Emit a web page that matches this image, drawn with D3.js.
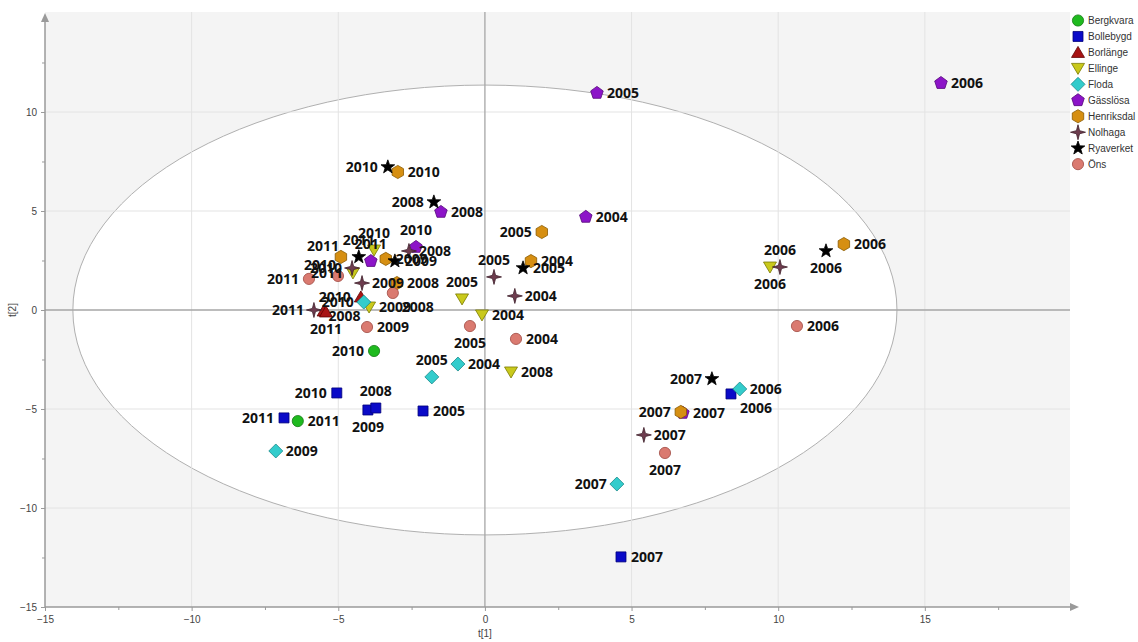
<!DOCTYPE html>
<html>
<head>
<meta charset="utf-8">
<script src="https://cdn.jsdelivr.net/npm/d3@7"></script>
<style>
  body { margin: 0; background: #fff; }
  svg { display: block; }
</style>
</head>
<body>
<svg id="chart" width="1138" height="642"></svg>
<script>
// PCA score plot t[1] vs t[2]; each row is [year, t1, t2, label side]
const sites = ["Bergkvara", "Bollebygd", "Borlänge", "Ellinge", "Floda", "Gässlösa", "Henriksdal", "Nolhaga", "Ryaverket", "Öns"];

const bergkvara = [["2010", -3.78, -2.07, "l"], ["2011", -6.38, -5.61, "r"]];
const bollebygd = [["2010", -5.05, -4.19, "l"], ["2011", -6.85, -5.45, "l"], ["2009", -3.99, -5.05, "b"],
                   ["2008", -3.72, -4.95, "t"], ["2005", -2.11, -5.10, "r"], ["2006", 8.39, -4.24, "br"],
                   ["2007", 4.64, -12.47, "r"]];
const borlange = [["2010", -4.23, 0.66, "l"], ["2008", -5.50, -0.05, "rb"], ["2011", -5.42, -0.10, "b"]];
const ellinge = [["2010", -3.78, 3.03, "t"], ["2011", -4.50, 1.87, "l"], ["2009", -3.95, 0.15, "r"],
                 ["2005", -0.78, 0.56, "t"], ["2004", -0.10, -0.25, "r"], ["2008", 0.89, -3.13, "r"],
                 ["2006", 9.72, 2.17, "b"]];
const floda = [["2010", -4.13, 0.40, "l"], ["2009", -7.13, -7.12, "r"], ["2005", -1.81, -3.38, "t"],
               ["2004", -0.92, -2.73, "r"], ["2006", 8.69, -3.99, "r"], ["2007", 4.50, -8.79, "l"]];
const gasslosa = [["2008", -1.50, 4.95, "r"], ["2010", -2.35, 3.18, "t"], ["2011", -3.89, 2.47, "t"],
                  ["2004", 3.44, 4.70, "r"], ["2005", 3.82, 10.96, "r"], ["2006", 15.55, 11.46, "r"],
                  ["2007", 6.75, -5.20, "r"]];
const henriksdal = [["2010", -2.97, 6.97, "r"], ["2011", -4.91, 2.68, "tl"], ["2009", -3.38, 2.58, "r"],
                    ["2008", -3.00, 1.36, "r"], ["2005", 1.94, 3.94, "l"], ["2004", 1.57, 2.47, "r"],
                    ["2006", 12.24, 3.33, "r"], ["2007", 6.68, -5.15, "l"]];
const nolhaga = [["2008", -2.59, 2.98, "r"], ["2010", -4.53, 2.12, "l"], ["2009", -4.19, 1.36, "r"],
                 ["2011", -5.83, 0.00, "l"], ["2005", 0.31, 1.67, "t"], ["2004", 1.02, 0.71, "r"],
                 ["2006", 10.06, 2.17, "t"], ["2007", 5.42, -6.31, "r"]];
const ryaverket = [["2010", -3.31, 7.22, "l"], ["2008", -1.74, 5.45, "l"], ["2011", -4.30, 2.68, "t"],
                   ["2009", -3.07, 2.47, "r"], ["2005", 1.30, 2.12, "r"], ["2006", 11.63, 2.98, "b"],
                   ["2007", 7.74, -3.48, "l"]];
const ons = [["2011", -6.00, 1.57, "l"], ["2010", -5.01, 1.72, "tl"], ["2008", -3.14, 0.86, "br"],
             ["2009", -4.02, -0.86, "r"], ["2005", -0.51, -0.81, "b"], ["2004", 1.06, -1.46, "r"],
             ["2006", 10.64, -0.81, "r"], ["2007", 6.14, -7.22, "b"]];

const seriesValues = [bergkvara, bollebygd, borlange, ellinge, floda, gasslosa, henriksdal, nolhaga, ryaverket, ons];

// confidence ellipse semi-axes (t1, t2 units)
const ellipseAxes = [14.05, 11.36];

const xTicks = [-15, -10, -5, 0, 5, 10, 15];
const yTicks = [-15, -10, -5, 0, 5, 10];
const xMinor = [-12.5, -7.5, -2.5, 2.5, 7.5, 12.5, 17.5];
const yMinor = [-12.5, -7.5, -2.5, 2.5, 7.5, 12.5];

const fills = ["#1fba1f", "#0a0ac8", "#a81414", "#c9c91c", "#33cccc", "#8c14c8", "#d68f12", "#6e3c4e", "#000000", "#da7a70"];
const strokes = ["#137a13", "#00007a", "#600000", "#7a7a00", "#1a8a8a", "#55087a", "#8a5a00", "#3e1e2a", "#000000", "#a04a42"];

const svg = d3.select("#chart");
const plotLeft = 45, plotRight = 1070, plotTop = 12, plotBottom = 607;

const x = d3.scaleLinear().domain([-15, 19.95]).range([plotLeft, plotRight]);
const y = d3.scaleLinear().domain([-15, 15.05]).range([plotBottom, plotTop]);

// marker shapes
function poly(n, r, rot) {
  const pts = d3.range(n).map(i => {
    const a = rot + i * 2 * Math.PI / n;
    return [r * Math.cos(a), r * Math.sin(a)];
  });
  return "M" + pts.map(p => p.join(",")).join("L") + "Z";
}
function star(n, ro, ri, rot) {
  const pts = d3.range(2 * n).map(i => {
    const r = i % 2 ? ri : ro;
    const a = rot + i * Math.PI / n;
    return [r * Math.cos(a), r * Math.sin(a)];
  });
  return "M" + pts.map(p => p.join(",")).join("L") + "Z";
}
const up = -Math.PI / 2;
const shapes = [
  s => d3.symbol(d3.symbolCircle, Math.PI * 5.6 * 5.6 * s * s)(),
  s => d3.symbol(d3.symbolSquare, 100 * s * s)(),
  s => `M0,${-6 * s}L${6.5 * s},${5 * s}L${-6.5 * s},${5 * s}Z`,
  s => `M0,${6 * s}L${6.5 * s},${-5 * s}L${-6.5 * s},${-5 * s}Z`,
  s => poly(4, 7 * s, 0),
  s => poly(5, 6.6 * s, up),
  s => poly(6, 6.6 * s, up),
  s => star(4, 7.5 * s, 2.2 * s, up),
  s => star(5, 7.2 * s, 2.9 * s, up),
  s => d3.symbol(d3.symbolCircle, Math.PI * 5.6 * 5.6 * s * s)()
];

// background and T2 ellipse
svg.append("rect").attr("x", plotLeft).attr("y", plotTop)
  .attr("width", plotRight - plotLeft).attr("height", plotBottom - plotTop).attr("fill", "#f4f4f4");

svg.append("ellipse")
  .attr("cx", x(0)).attr("cy", y(0))
  .attr("rx", x(ellipseAxes[0]) - x(0))
  .attr("ry", y(0) - y(ellipseAxes[1]))
  .attr("fill", "#ffffff").attr("stroke", "#b0b0b0").attr("stroke-width", 1);

// grid lines
const grid = svg.append("g").attr("stroke", "#e3e3e3").attr("stroke-width", 1);
xTicks.filter(v => v !== 0 && v !== -15).forEach(v => {
  grid.append("line").attr("x1", x(v)).attr("x2", x(v)).attr("y1", plotTop).attr("y2", plotBottom);
});
yTicks.filter(v => v !== 0 && v !== -15).forEach(v => {
  grid.append("line").attr("x1", plotLeft).attr("x2", plotRight).attr("y1", y(v)).attr("y2", y(v));
});

// zero lines
svg.append("line").attr("x1", plotLeft).attr("x2", plotRight).attr("y1", y(0)).attr("y2", y(0))
  .attr("stroke", "#a6a6a6").attr("stroke-width", 1.3);
svg.append("line").attr("x1", x(0)).attr("x2", x(0)).attr("y1", plotTop).attr("y2", plotBottom)
  .attr("stroke", "#a6a6a6").attr("stroke-width", 1.3);

// axes
const axisColor = "#9a9a9a";
function styleAxis(g) {
  g.select(".domain").remove();
  g.selectAll(".tick line").attr("stroke", axisColor);
  g.selectAll(".tick text").attr("fill", "#444").attr("font-family", "'Liberation Sans', Arial, sans-serif").attr("font-size", 10);
}
svg.append("g").attr("transform", `translate(0,${plotBottom})`)
  .call(d3.axisBottom(x).tickValues(xTicks).tickSize(4).tickPadding(5).tickFormat(d3.format("d")))
  .call(styleAxis);
svg.append("g").attr("transform", `translate(0,${plotBottom})`)
  .call(d3.axisBottom(x).tickValues(xMinor).tickSize(3).tickFormat(""))
  .call(styleAxis);
svg.append("g").attr("transform", `translate(${plotLeft},0)`)
  .call(d3.axisLeft(y).tickValues(yTicks).tickSize(4).tickPadding(4).tickFormat(d3.format("d")))
  .call(styleAxis);
svg.append("g").attr("transform", `translate(${plotLeft},0)`)
  .call(d3.axisLeft(y).tickValues(yMinor).tickSize(3).tickFormat(""))
  .call(styleAxis);

// axis lines with arrow heads
svg.append("line").attr("x1", plotLeft).attr("x2", plotRight + 2).attr("y1", plotBottom).attr("y2", plotBottom)
  .attr("stroke", axisColor).attr("stroke-width", 1.5);
svg.append("path").attr("d", `M${plotRight + 9},${plotBottom}L${plotRight},${plotBottom - 4}L${plotRight},${plotBottom + 4}Z`).attr("fill", axisColor);
svg.append("line").attr("x1", plotLeft).attr("x2", plotLeft).attr("y1", plotBottom).attr("y2", plotTop + 6)
  .attr("stroke", axisColor).attr("stroke-width", 1.5);
svg.append("path").attr("d", `M${plotLeft},${plotTop + 1}L${plotLeft - 4},${plotTop + 10}L${plotLeft + 4},${plotTop + 10}Z`).attr("fill", axisColor);

svg.append("text").attr("x", x(0)).attr("y", 637).attr("text-anchor", "middle")
  .attr("font-family", "'Liberation Sans', Arial, sans-serif").attr("font-size", 10).attr("fill", "#444").text("t[1]");
svg.append("text").attr("transform", `translate(16,${y(0)}) rotate(-90)`).attr("text-anchor", "middle")
  .attr("font-family", "'Liberation Sans', Arial, sans-serif").attr("font-size", 10).attr("fill", "#444").text("t[2]");

// markers
const rows = seriesValues.flatMap((rowsOfSite, si) => rowsOfSite.map(r => ({ si, year: r[0], t1: r[1], t2: r[2], side: r[3] })));

svg.append("g").selectAll("path").data(rows).join("path")
  .attr("transform", d => `translate(${x(d.t1)},${y(d.t2)})`)
  .attr("d", d => shapes[d.si](1))
  .attr("fill", d => fills[d.si])
  .attr("stroke", d => strokes[d.si])
  .attr("stroke-width", 0.8);

// year labels
const labelPos = {
  r:  [10, 0, "start"],
  l:  [-10, 0, "end"],
  t:  [0, -17, "middle"],
  b:  [0, 17, "middle"],
  tl: [-2, -11, "end"],
  br: [9, 14, "start"],
  rb: [5, 5, "start"]
};
svg.append("g").selectAll("text").data(rows).join("text")
  .attr("x", d => x(d.t1) + labelPos[d.side][0])
  .attr("y", d => y(d.t2) + labelPos[d.side][1])
  .attr("dy", "0.36em")
  .attr("text-anchor", d => labelPos[d.side][2])
  .attr("font-family", "'Open Sans', sans-serif")
  .attr("font-weight", 700)
  .attr("font-size", 14)
  .attr("fill", "#111")
  .text(d => d.year);

// legend
const legend = svg.append("g").attr("transform", "translate(1078,20.5)");
sites.forEach((name, i) => {
  const g = legend.append("g").attr("transform", `translate(0,${i * 15.96})`);
  g.append("path").attr("d", shapes[i](1)).attr("fill", fills[i]).attr("stroke", strokes[i]).attr("stroke-width", 0.8);
  g.append("text").attr("x", 10).attr("dy", "0.35em")
    .attr("font-family", "'Liberation Sans', Arial, sans-serif").attr("font-size", 10).attr("fill", "#333")
    .text(name);
});
</script>
</body>
</html>
